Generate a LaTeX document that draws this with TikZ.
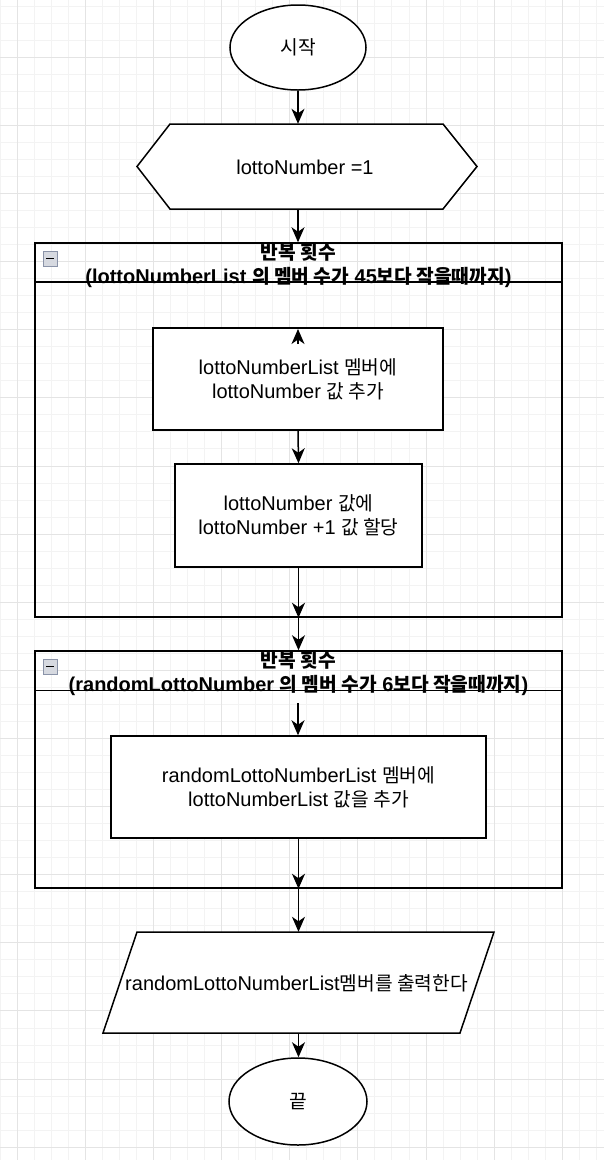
\documentclass[tikz,border=0pt]{standalone}
\usepackage{fontspec}
\setmainfont{Liberation Sans}
\newfontfamily\krfont[Scale=0.96]{Noto Sans CJK KR}
\newcommand\kr[1]{{\krfont #1}}
\usetikzlibrary{shapes.geometric,arrows.meta}
\definecolor{gridminor}{HTML}{F3F3F3}
\definecolor{gridmajor}{HTML}{E4E4E4}
\definecolor{iconborder}{HTML}{8A93A8}
\definecolor{iconfill}{HTML}{D6D9E0}
\tikzset{
  every node/.style={font=\fontsize{20bp}{24bp}\selectfont, inner sep=0pt},
  outl/.style={draw=black, line width=1.5bp},
  procbox/.style={outl, fill=white, rectangle, align=center},
  termin/.style={outl, fill=white, ellipse},
  loopbox/.style={outl, rectangle},
  hdr/.style={anchor=base, font=\fontsize{20bp}{24bp}\selectfont\bfseries},
  arr/.style={draw=black, line width=1.5bp, -{Stealth[length=15bp,width=13bp,inset=4.5bp]}},
  iconbox/.style={draw=iconborder, fill=iconfill, line width=1bp, minimum width=14bp, minimum height=15bp},
}
\begin{document}
\begin{tikzpicture}[x=1bp,y=-1bp]
\useasboundingbox (0,0) rectangle (604,1160);
\fill[white] (0,0) rectangle (604,1160);
% grid
\foreach \i in {0,...,35} {
  \pgfmathsetmacro{\gx}{0.3+17.03*\i}
  \draw[gridminor, line width=1bp] (\gx,0) -- (\gx,1160);
}
\foreach \j in {0,...,67} {
  \pgfmathsetmacro{\gy}{6.2+17.03*\j}
  \draw[gridminor, line width=1bp] (0,\gy) -- (604,\gy);
}
\foreach \i in {0,...,8} {
  \pgfmathsetmacro{\gx}{17.3+68.12*\i}
  \draw[gridmajor, line width=1bp] (\gx,0) -- (\gx,1160);
}
\foreach \j in {-1,...,16} {
  \pgfmathsetmacro{\gy}{57.3+68.12*\j}
  \draw[gridmajor, line width=1bp] (0,\gy) -- (604,\gy);
}

% start
\node[termin, minimum width=136bp, minimum height=85bp] (start) at (298,47.5) {\kr{시작}};

% hexagon
\node[minimum width=340bp, minimum height=85bp] (hex) at (307,166.5) {};
\draw[outl, fill=white] (137,166.5) -- (170,124) -- (443,124) -- (477,166.5) -- (443,209) -- (170,209) -- cycle;
\node (hextext) at (305,167) {lottoNumber =1};

% loop 1
\node[loopbox, minimum width=527bp, minimum height=374bp] (loop1) at (298.5,430) {};
\draw[outl] ([yshift=-39.5bp]loop1.north west) -- ([yshift=-39.5bp]loop1.north east);
\node[iconbox] (icon1) at (50,258.5) {};
\draw[line width=1.6bp] ([xshift=3.5bp]icon1.west) -- ([xshift=-3.5bp]icon1.east);
\node[hdr] (h1a) at (298.5,259) {\kr{반복 횟수}};
\node[hdr] (h1b) at (298.5,283) {(lottoNumberList \kr{의 멤버 수가} 45\kr{보다 작을때까지})};

\node[procbox, minimum width=290bp, minimum height=102bp] (boxa) at (298,379) {lottoNumberList \kr{멤버에}\\lottoNumber \kr{값 추가}};
\node[procbox, minimum width=247bp, minimum height=103bp] (boxb) at (298.5,515.5) {lottoNumber \kr{값에}\\lottoNumber +1 \kr{값 할당}};

% loop 2
\node[loopbox, minimum width=527bp, minimum height=237bp] (loop2) at (298.5,769.5) {};
\draw[outl] ([yshift=-40bp]loop2.north west) -- ([yshift=-40bp]loop2.north east);
\node[iconbox] (icon2) at (50,666.5) {};
\draw[line width=1.6bp] ([xshift=3.5bp]icon2.west) -- ([xshift=-3.5bp]icon2.east);
\node[hdr] (h2a) at (298.5,667) {\kr{반복 횟수}};
\node[hdr] (h2b) at (298.5,691) {(randomLottoNumber \kr{의 멤버 수가} 6\kr{보다 작을때까지})};

\node[procbox, minimum width=375bp, minimum height=102bp] (boxc) at (298.5,787) {randomLottoNumberList \kr{멤버에}\\lottoNumberList \kr{값을 추가}};

% output parallelogram
\node[minimum width=391bp, minimum height=101bp] (out) at (298.5,982.5) {};
\draw[outl, fill=white] (137,932) -- (494,932) -- (460,1033) -- (103,1033) -- cycle;
\node (outtext) at (296.5,983) {randomLottoNumberList\kr{멤버를 출력한다}};

% end
\node[termin, minimum width=138bp, minimum height=87bp] (end) at (298,1101.5) {\kr{끝}};

% connectors
\coordinate (upa) at (298,344);
\coordinate (upb) at (298,329);
\coordinate (in2) at (298,703);
\draw[arr] (start.south) -- (start.south |- hex.north);
\draw[arr] (start.south |- hex.south) -- (start.south |- loop1.north);
\draw[arr] (upa) -- (upb);
\draw[arr] (boxa.south) -- (boxb.north);
\draw[arr] (boxb.south) -- (boxb.south |- loop1.south);
\draw[arr] (boxb.south |- loop1.south) -- (boxb.south |- loop2.north);
\draw[arr] (in2) -- (in2 |- boxc.north);
\draw[arr] (boxc.south) -- (boxc.south |- loop2.south);
\draw[arr] (boxc.south |- loop2.south) -- (boxc.south |- out.north);
\draw[arr] (boxc.south |- out.south) -- (boxc.south |- end.north);
\end{tikzpicture}
\end{document}
